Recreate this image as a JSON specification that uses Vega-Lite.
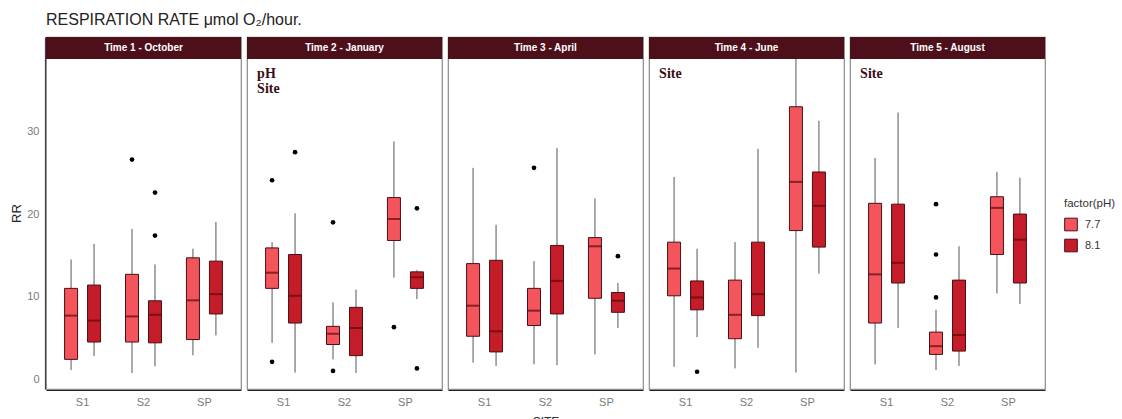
{
  "$schema": "https://vega.github.io/schema/vega-lite/v6.json",
  "padding": {"left": 10, "top": 12, "right": 5, "bottom": 0},
  "title": {"text": "RESPIRATION RATE μmol O₂/hour.", "anchor": "start", "frame": "group", "font": "Liberation Sans", "fontSize": 16, "fontWeight": "normal", "color": "#222222", "offset": 8},
  "data": {"values": [
    {"k":"head","time":"Time 1 - October"},
    {"k":"head","time":"Time 2 - January"},
    {"k":"head","time":"Time 3 - April"},
    {"k":"head","time":"Time 4 - June"},
    {"k":"head","time":"Time 5 - August"},
    {"k":"note","time":"Time 2 - January","label":"pH\nSite"},
    {"k":"note","time":"Time 4 - June","label":"Site"},
    {"k":"note","time":"Time 5 - August","label":"Site"},

    {"k":"box","time":"Time 1 - October","site":"S1","ph":"7.7","lo":1.1,"q1":2.4,"med":7.7,"q3":11.0,"hi":14.5},
    {"k":"box","time":"Time 1 - October","site":"S1","ph":"8.1","lo":2.8,"q1":4.5,"med":7.1,"q3":11.4,"hi":16.4},
    {"k":"box","time":"Time 1 - October","site":"S2","ph":"7.7","lo":0.75,"q1":4.5,"med":7.6,"q3":12.7,"hi":18.2},
    {"k":"box","time":"Time 1 - October","site":"S2","ph":"8.1","lo":1.55,"q1":4.4,"med":7.8,"q3":9.5,"hi":13.9},
    {"k":"box","time":"Time 1 - October","site":"SP","ph":"7.7","lo":2.9,"q1":4.8,"med":9.55,"q3":14.7,"hi":15.8},
    {"k":"box","time":"Time 1 - October","site":"SP","ph":"8.1","lo":5.3,"q1":7.9,"med":10.3,"q3":14.3,"hi":19.05},
    {"k":"out","time":"Time 1 - October","site":"S2","ph":"7.7","v":26.6},
    {"k":"out","time":"Time 1 - October","site":"S2","ph":"8.1","v":22.6},
    {"k":"out","time":"Time 1 - October","site":"S2","ph":"8.1","v":17.4},

    {"k":"box","time":"Time 2 - January","site":"S1","ph":"7.7","lo":4.4,"q1":11.0,"med":12.9,"q3":15.9,"hi":16.6},
    {"k":"box","time":"Time 2 - January","site":"S1","ph":"8.1","lo":0.8,"q1":6.8,"med":10.1,"q3":15.1,"hi":20.1},
    {"k":"box","time":"Time 2 - January","site":"S2","ph":"7.7","lo":2.4,"q1":4.2,"med":5.5,"q3":6.4,"hi":9.3},
    {"k":"box","time":"Time 2 - January","site":"S2","ph":"8.1","lo":0.75,"q1":2.85,"med":6.2,"q3":8.7,"hi":10.85},
    {"k":"box","time":"Time 2 - January","site":"SP","ph":"7.7","lo":12.3,"q1":16.8,"med":19.4,"q3":22.0,"hi":28.8},
    {"k":"box","time":"Time 2 - January","site":"SP","ph":"8.1","lo":9.7,"q1":11.0,"med":12.35,"q3":13.0,"hi":13.2},
    {"k":"out","time":"Time 2 - January","site":"S1","ph":"7.7","v":24.1},
    {"k":"out","time":"Time 2 - January","site":"S1","ph":"7.7","v":2.1},
    {"k":"out","time":"Time 2 - January","site":"S1","ph":"8.1","v":27.5},
    {"k":"out","time":"Time 2 - January","site":"S2","ph":"7.7","v":19.0},
    {"k":"out","time":"Time 2 - January","site":"S2","ph":"7.7","v":1.0},
    {"k":"out","time":"Time 2 - January","site":"SP","ph":"7.7","v":6.3},
    {"k":"out","time":"Time 2 - January","site":"SP","ph":"8.1","v":20.7},
    {"k":"out","time":"Time 2 - January","site":"SP","ph":"8.1","v":1.3},

    {"k":"box","time":"Time 3 - April","site":"S1","ph":"7.7","lo":2.0,"q1":5.2,"med":8.9,"q3":14.0,"hi":25.6},
    {"k":"box","time":"Time 3 - April","site":"S1","ph":"8.1","lo":1.6,"q1":3.3,"med":5.8,"q3":14.4,"hi":18.7},
    {"k":"box","time":"Time 3 - April","site":"S2","ph":"7.7","lo":1.8,"q1":6.5,"med":8.3,"q3":11.0,"hi":14.3},
    {"k":"box","time":"Time 3 - April","site":"S2","ph":"8.1","lo":1.7,"q1":7.9,"med":11.9,"q3":16.2,"hi":28.0},
    {"k":"box","time":"Time 3 - April","site":"SP","ph":"7.7","lo":3.0,"q1":9.8,"med":16.1,"q3":17.15,"hi":21.9},
    {"k":"box","time":"Time 3 - April","site":"SP","ph":"8.1","lo":6.2,"q1":8.1,"med":9.5,"q3":10.5,"hi":11.65},
    {"k":"out","time":"Time 3 - April","site":"S2","ph":"7.7","v":25.6},
    {"k":"out","time":"Time 3 - April","site":"SP","ph":"8.1","v":14.9},

    {"k":"box","time":"Time 4 - June","site":"S1","ph":"7.7","lo":1.5,"q1":10.1,"med":13.4,"q3":16.6,"hi":24.5},
    {"k":"box","time":"Time 4 - June","site":"S1","ph":"8.1","lo":5.1,"q1":8.4,"med":9.9,"q3":11.9,"hi":15.8},
    {"k":"box","time":"Time 4 - June","site":"S2","ph":"7.7","lo":1.3,"q1":4.9,"med":7.8,"q3":12.0,"hi":16.6},
    {"k":"box","time":"Time 4 - June","site":"S2","ph":"8.1","lo":3.8,"q1":7.7,"med":10.3,"q3":16.6,"hi":27.9},
    {"k":"box","time":"Time 4 - June","site":"SP","ph":"7.7","lo":0.8,"q1":18.0,"med":23.9,"q3":33.0,"hi":38.8},
    {"k":"box","time":"Time 4 - June","site":"SP","ph":"8.1","lo":12.8,"q1":16.0,"med":21.0,"q3":25.1,"hi":31.3},
    {"k":"out","time":"Time 4 - June","site":"S1","ph":"8.1","v":0.9},

    {"k":"box","time":"Time 5 - August","site":"S1","ph":"7.7","lo":1.8,"q1":6.8,"med":12.7,"q3":21.3,"hi":26.8},
    {"k":"box","time":"Time 5 - August","site":"S1","ph":"8.1","lo":6.2,"q1":11.65,"med":14.1,"q3":21.2,"hi":32.3},
    {"k":"box","time":"Time 5 - August","site":"S2","ph":"7.7","lo":1.1,"q1":3.0,"med":4.0,"q3":5.7,"hi":8.4},
    {"k":"box","time":"Time 5 - August","site":"S2","ph":"8.1","lo":1.6,"q1":3.4,"med":5.35,"q3":12.0,"hi":16.1},
    {"k":"box","time":"Time 5 - August","site":"SP","ph":"7.7","lo":10.4,"q1":15.1,"med":20.75,"q3":22.1,"hi":25.1},
    {"k":"box","time":"Time 5 - August","site":"SP","ph":"8.1","lo":9.1,"q1":11.65,"med":16.9,"q3":20.0,"hi":24.4},
    {"k":"out","time":"Time 5 - August","site":"S2","ph":"7.7","v":21.2},
    {"k":"out","time":"Time 5 - August","site":"S2","ph":"7.7","v":15.1},
    {"k":"out","time":"Time 5 - August","site":"S2","ph":"7.7","v":9.9}
  ]},
  "facet": {"column": {"field": "time", "type": "nominal", "sort": "ascending",
    "header": {"labels": false, "title": "SITE", "titleOrient": "bottom", "titleFont": "Liberation Sans", "titleFontSize": 12, "titleFontWeight": "normal", "titleColor": "#333333", "titlePadding": 0}}},
  "spacing": 4,
  "spec": {
    "width": 195,
    "height": 352,
    "encoding": {
      "x": {"field": "site", "type": "nominal", "title": null,
        "scale": {"paddingInner": 0, "paddingOuter": 0.1},
        "axis": {"labelAngle": 0, "ticks": false, "labelPadding": 6, "labelFont": "Liberation Sans", "labelFontSize": 11, "labelColor": "#7a7a7a", "domainColor": "#222222", "domainWidth": 1.2}},
      "xOffset": {"field": "ph", "type": "nominal", "scale": {"paddingOuter": 0.326, "paddingInner": 0}},
      "y": {"type": "quantitative", "title": "RR",
        "scale": {"domain": [-1.19, 41.45], "nice": false, "zero": false},
        "axis": {"values": [0, 10, 20, 30], "grid": false, "ticks": false, "labelPadding": 6, "labelFont": "Liberation Sans", "labelFontSize": 11, "labelColor": "#7a7a7a", "domainColor": "#222222", "domainWidth": 1.2, "titleFont": "Liberation Sans", "titleFontSize": 13, "titleFontWeight": "normal", "titleColor": "#222222", "titlePadding": 3}}
    },
    "layer": [
      {
        "transform": [{"filter": "datum.k == 'head'"}],
        "mark": {"type": "rect", "color": "#4d0f19"},
        "encoding": {
          "x": null,
          "xOffset": null,
          "y": {"datum": 38.8, "type": "quantitative"},
          "y2": {"datum": 41.45}
        }
      },
      {
        "transform": [{"filter": "datum.k == 'head'"}],
        "mark": {"type": "text", "color": "white", "font": "Liberation Sans", "fontSize": 10, "fontWeight": "bold", "baseline": "middle"},
        "encoding": {
          "x": {"datum": "S2", "type": "nominal"},
          "xOffset": null,
          "y": {"datum": 40.12, "type": "quantitative"},
          "text": {"field": "time", "type": "nominal"}
        }
      },
      {
        "transform": [{"filter": "datum.k == 'note'"}],
        "mark": {"type": "text", "color": "#3a0d14", "font": "Liberation Serif", "fontSize": 14, "fontWeight": "bold", "align": "left", "baseline": "top", "lineBreak": "\n", "lineHeight": 15, "dx": 4},
        "encoding": {
          "x": {"datum": "S1", "type": "nominal", "bandPosition": 0},
          "xOffset": null,
          "y": {"datum": 37.8, "type": "quantitative"},
          "text": {"field": "label", "type": "nominal"}
        }
      },
      {
        "transform": [{"filter": "datum.k == 'box'"}],
        "mark": {"type": "rule", "color": "#555555", "strokeWidth": 1},
        "encoding": {
          "y": {"field": "lo", "type": "quantitative"},
          "y2": {"field": "hi"}
        }
      },
      {
        "transform": [{"filter": "datum.k == 'box'"}],
        "mark": {"type": "bar", "size": 13, "stroke": "#4a1015", "strokeWidth": 1},
        "encoding": {
          "y": {"field": "q1", "type": "quantitative"},
          "y2": {"field": "q3"},
          "fill": {"field": "ph", "type": "nominal", "title": "factor(pH)",
            "scale": {"domain": ["7.7", "8.1"], "range": ["#f4545c", "#c41c28"]},
            "legend": {"orient": "none", "legendX": 1018, "legendY": 161, "symbolType": "square", "symbolSize": 160, "symbolStrokeColor": "#4a1015", "symbolStrokeWidth": 1, "symbolOpacity": 1, "rowPadding": 3, "titleFont": "Liberation Sans", "titleFontSize": 11.5, "titleFontWeight": "normal", "titleColor": "#333333", "titlePadding": 8, "labelFont": "Liberation Sans", "labelFontSize": 11, "labelColor": "#333333", "labelOffset": 7}}
        }
      },
      {
        "transform": [{"filter": "datum.k == 'box'"}],
        "mark": {"type": "tick", "size": 13, "thickness": 2, "color": "#5a0a10"},
        "encoding": {
          "y": {"field": "med", "type": "quantitative"}
        }
      },
      {
        "transform": [{"filter": "datum.k == 'out'"}],
        "mark": {"type": "point", "filled": true, "color": "black", "size": 22, "opacity": 1},
        "encoding": {
          "y": {"field": "v", "type": "quantitative"}
        }
      }
    ]
  },
  "config": {
    "view": {"stroke": "#8a8a8a", "strokeWidth": 1.2},
    "axis": {"grid": false}
  }
}
